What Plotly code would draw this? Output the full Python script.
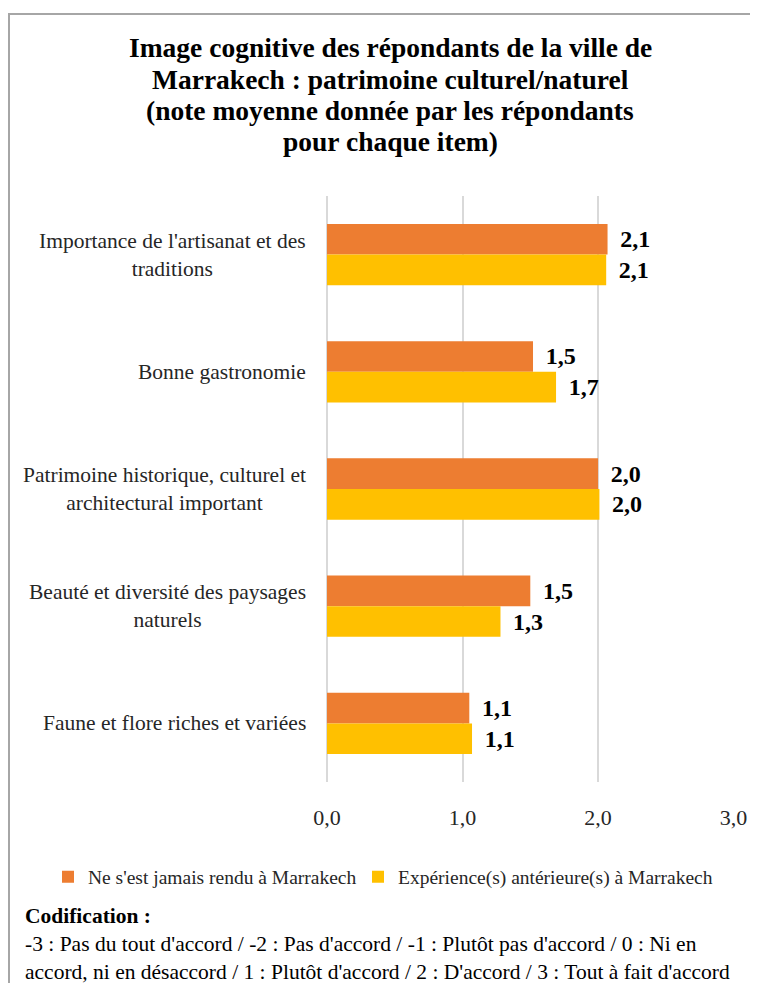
import plotly.graph_objects as go

categories = [
    "Importance de l'artisanat et des<br>traditions",
    "Bonne gastronomie",
    "Patrimoine historique, culturel et<br>architectural important",
    "Beauté et diversité des paysages<br>naturels",
    "Faune et flore riches et variées",
]
series_names = ["Ne s'est jamais rendu à Marrakech", "Expérience(s) antérieure(s) à Marrakech"]
never_visited = [2.07, 1.52, 2.00, 1.50, 1.05]
prior_experience = [2.06, 1.69, 2.01, 1.28, 1.07]
colors = ["#ED7D31", "#FFC000"]
x_ticks = [0, 1, 2, 3]
title_lines = [
    "Image cognitive des répondants de la ville de",
    "Marrakech : patrimoine culturel/naturel",
    "(note moyenne donnée par les répondants",
    "pour chaque item)",
]

# page body has an 8px margin: figure origin sits at (8, 8) of the window
OFF = 8
W, H = 758 - OFF, 983 - OFF
ML, MR, MT, MB = 327 - OFF, 24, 196 - OFF, 201
PW, PH = W - ML - MR, H - MT - MB
FONT = "Liberation Serif"


def px_x(px):
    """window pixel x -> paper coordinate"""
    return (px - OFF - ML) / PW


def px_y(py):
    """window pixel y -> paper coordinate"""
    return (H - MB - (py - OFF)) / PH


def fmt(v):
    return "\u2009\u2009" + f"{v:.1f}".replace(".", ",")


fig = go.Figure()
for i, (name, vals, col) in enumerate(zip(series_names, [never_visited, prior_experience], colors)):
    fig.add_trace(go.Bar(
        y=categories, x=vals, name=name, orientation="h",
        marker=dict(color=col, line=dict(width=0)),
        text=[fmt(v) for v in vals], textposition="outside",
        textfont=dict(family=FONT, size=24, color="#000000", weight="bold"),
        constraintext="none", cliponaxis=False,
        legend="legend" if i == 0 else "legend2",
    ))

# category labels (centred multi-line, right-aligned block)
for c in categories:
    fig.add_annotation(
        x=0, xref="paper", y=c, yref="y", xanchor="right", xshift=-19,
        text=c, showarrow=False, align="center",
        font=dict(family=FONT, size=21.5, color="#262626"),
    )

# title lines
for line, yc in zip(title_lines, [47, 79, 110, 142]):
    fig.add_annotation(
        x=px_x(390), xref="paper", y=px_y(yc), yref="paper",
        xanchor="center", yanchor="middle", showarrow=False, text="<b>" + line + "</b>",
        font=dict(family=FONT, size=27.5, color="#000000"),
    )

fig.add_annotation(
    x=px_x(23), xref="paper", y=px_y(902), yref="paper", xanchor="left", yanchor="top",
    align="left", showarrow=False,
    text="<b>Codification :</b><br>-3 : Pas du tout d'accord / -2 : Pas d'accord / -1 : Plutôt pas d'accord / 0 : Ni en<br>"
         "accord, ni en désaccord / 1 : Plutôt d'accord / 2 : D'accord / 3 : Tout à fait d'accord",
    font=dict(family=FONT, size=21.5, color="#000000"),
)

# chart frame (clipped at the right and bottom edges)
fig.add_shape(type="rect", xref="paper", yref="paper",
              x0=px_x(9), x1=px_x(800), y0=px_y(1100), y1=px_y(14),
              line=dict(color="#A6A6A6", width=2), fillcolor="rgba(0,0,0,0)", layer="above")

legend_common = dict(orientation="h", xref="container", xanchor="left",
                     yref="container", y=1 - (877 - OFF) / H, yanchor="middle",
                     font=dict(family=FONT, size=19.5, color="#262626"),
                     itemwidth=30, bgcolor="rgba(0,0,0,0)")

fig.update_layout(
    width=W, height=H,
    margin=dict(l=ML, r=MR, t=MT, b=MB, pad=0),
    paper_bgcolor="white", plot_bgcolor="white",
    separators=", ",
    barmode="group", bargap=0.477, bargroupgap=0,
    font=dict(family=FONT, color="#000000"),
    xaxis=dict(range=[0, 3.003], tickvals=x_ticks, tickformat=".1f",
               showgrid=True, gridcolor="#D9D9D9", gridwidth=1.5,
               zeroline=True, zerolinecolor="#D9D9D9", zerolinewidth=1.5,
               showline=False, ticks="", ticklabelstandoff=20,
               tickfont=dict(family=FONT, size=22, color="#262626")),
    yaxis=dict(autorange="reversed", showticklabels=False, showgrid=False,
               zeroline=False, showline=False, ticks=""),
    legend=dict(x=(48 - OFF) / W, **legend_common),
    legend2=dict(x=(358 - OFF) / W, **legend_common),
    showlegend=True,
)

fig.write_html("out.html")
